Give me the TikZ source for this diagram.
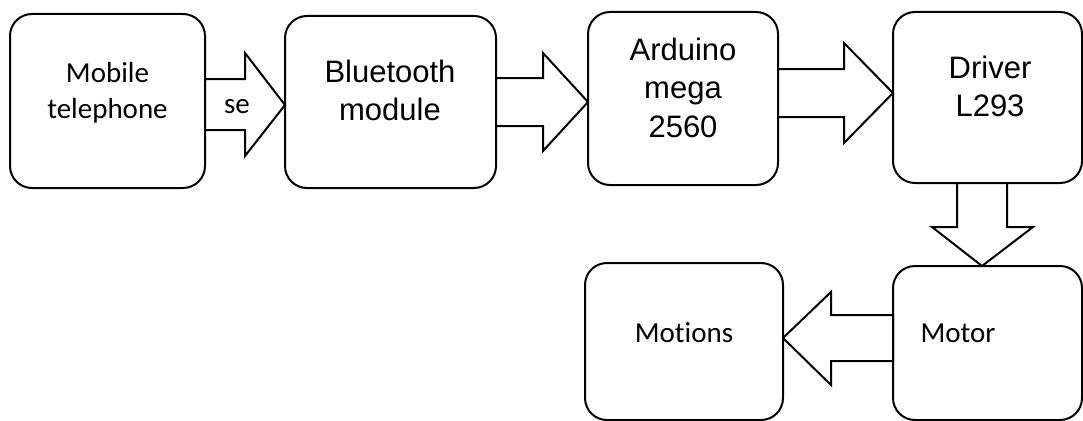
\documentclass[tikz,border=0pt]{standalone}
\usepackage{fontspec}
\setmainfont{Carlito}[Ligatures=NoCommon]
\newfontfamily\arialf{Liberation Sans}
\newcommand\lines[1]{\begin{tabular}[t]{@{}c@{}}#1\end{tabular}}
\begin{document}
\begin{tikzpicture}[x=1pt,y=-1pt,
  box/.style={draw, line width=2pt, rounded corners=22pt, inner sep=0pt, outer sep=0pt},
  blk/.style={draw, line width=2pt, fill=white, line join=miter},
  cal/.style={font=\fontsize{29}{36}\selectfont, inner sep=0pt, anchor=base},
  ari/.style={font=\arialf\fontsize{31}{38.5}\selectfont, inner sep=0pt, anchor=base}]
\useasboundingbox (0,0) rectangle (1083,420);
% boxes
\node[box, minimum width=195pt, minimum height=174pt] (mob) at (107.5,101) {};
\node[box, minimum width=211pt, minimum height=172pt] (bt)  at (390.5,102) {};
\node[box, minimum width=190pt, minimum height=173pt] (ard) at (683,98.5) {};
\node[box, minimum width=189pt, minimum height=171pt] (drv) at (987.5,97.5) {};
\node[box, minimum width=189pt, minimum height=154pt] (mot) at (987.5,343) {};
\node[box, minimum width=198pt, minimum height=157pt] (mtn) at (684,341.5) {};
% block arrows
\draw[blk] (mob.east |- 0,79) -- (245,79) -- (245,53) -- (bt.west |- 0,105)
  -- (245,156) -- (245,130) -- (mob.east |- 0,130) -- cycle;
\draw[blk] (bt.east |- 0,78) -- (543,78) -- (543,53) -- (ard.west |- 0,102)
  -- (543,151) -- (543,126) -- (bt.east |- 0,126) -- cycle;
\draw[blk] (ard.east |- 0,69) -- (844,69) -- (844,43) -- (drv.west |- 0,93)
  -- (844,143) -- (844,117) -- (ard.east |- 0,117) -- cycle;
\draw[blk] (957,0 |- drv.south) -- (957,227) -- (932,227) -- (982,0 |- mot.north)
  -- (1033,227) -- (1007,227) -- (1007,0 |- drv.south) -- cycle;
\draw[blk] (mot.west |- 0,315) -- (831,315) -- (831,292) -- (mtn.east |- 0,338)
  -- (831,385) -- (831,361) -- (mot.west |- 0,361) -- cycle;
% texts
\node[cal] (tmob) at (107.5,82) {\lines{Mobile\\telephone}};
\node[cal] (tse)  at (237,113) {se};
\node[ari] (tbt)  at (390,82) {\lines{Bluetooth\\module}};
\node[ari] (tard) at (683,60) {\lines{Arduino\\mega\\2560}};
\node[ari] (tdrv) at (990,78) {\lines{Driver\\L293}};
\node[cal] (tmtn) at (684,342) {Motions};
\node[cal] (tmot) at (958,342) {Motor};
\end{tikzpicture}
\end{document}
